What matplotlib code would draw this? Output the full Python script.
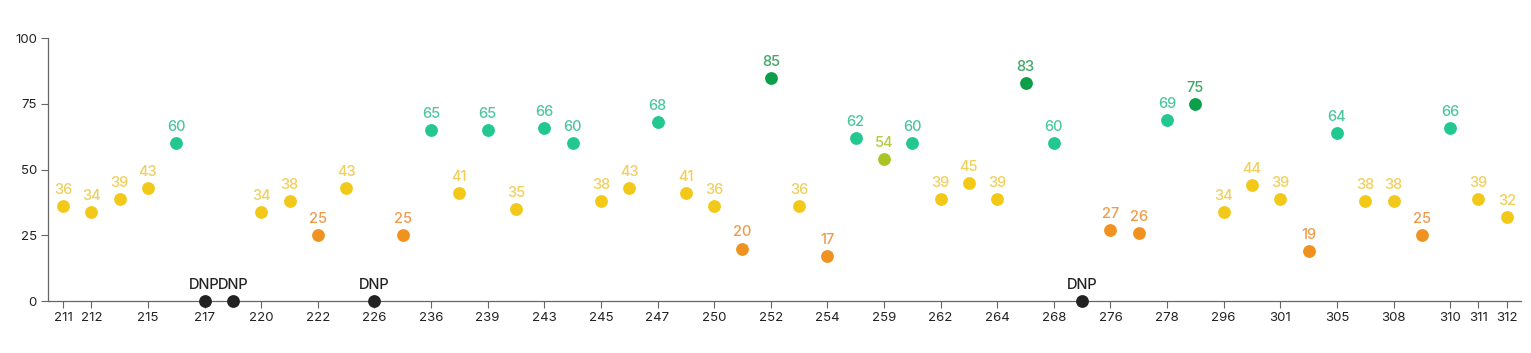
import matplotlib.pyplot as plt

plt.rcParams['font.family'] = ['Inter', 'DejaVu Sans']

# tick labels ('' = point shown without a tick)
tick_labels = ['211', '212', '', '215', '', '217', '', '220', '', '222',
               '', '226', '', '236', '', '239', '', '243', '', '245',
               '', '247', '', '250', '', '252', '', '254', '', '259',
               '', '262', '', '264', '', '268', '', '276', '', '278',
               '', '296', '', '301', '', '305', '', '308', '', '310',
               '311', '312']
# None = DNP
scores = [36, 34, 39, 43, 60, None, None, 34, 38, 25,
          43, None, 25, 65, 41, 65, 35, 66, 60, 38,
          43, 68, 41, 36, 20, 85, 36, 17, 62, 54,
          60, 39, 45, 39, 83, 60, None, 27, 26, 69,
          75, 34, 44, 39, 19, 64, 38, 38, 25, 66,
          39, 32]


def colours(v):
    if v is None:
        return '#222222', '#222222'
    if v < 30:
        return '#f0921f', '#ee9c4c'
    if v < 50:
        return '#f2c918', '#f0cf5c'
    if v < 60:
        return '#a9c523', '#b7ca4a'
    if v < 75:
        return '#22c88f', '#4cc79b'
    return '#0b9f49', '#3ea866'


fig = plt.figure(figsize=(15.31, 3.53), dpi=100)
ax = fig.add_axes([0.0314, 0.147, 0.962, 0.745])

for i, v in enumerate(scores):
    dot, lab = colours(v)
    y = 0 if v is None else v
    ax.scatter(i, y, s=85, color=dot, zorder=3, clip_on=False, linewidths=0)
    ax.annotate('DNP' if v is None else str(v), (i, y), xytext=(0, 6.5),
                textcoords='offset points', ha='center', va='bottom',
                fontsize=10.5, fontweight='medium', color=lab)

ticks = [i for i, t in enumerate(tick_labels) if t]
ax.set_xticks(ticks)
ax.set_xticklabels([tick_labels[i] for i in ticks], fontsize=9.5, color='#222222')
ax.set_yticks([0, 25, 50, 75, 100])
ax.set_yticklabels(['0', '25', '50', '75', '100'], fontsize=9.5, color='#222222')
ax.set_xlim(-0.53, 51.5)
ax.set_ylim(0, 100)
ax.tick_params(length=5, width=0.8, color='#666666', pad=3)
for s in ['top', 'right']:
    ax.spines[s].set_visible(False)
for s in ['left', 'bottom']:
    ax.spines[s].set_color('#666666')
    ax.spines[s].set_linewidth(0.9)

fig.savefig('out.png', dpi=100)
